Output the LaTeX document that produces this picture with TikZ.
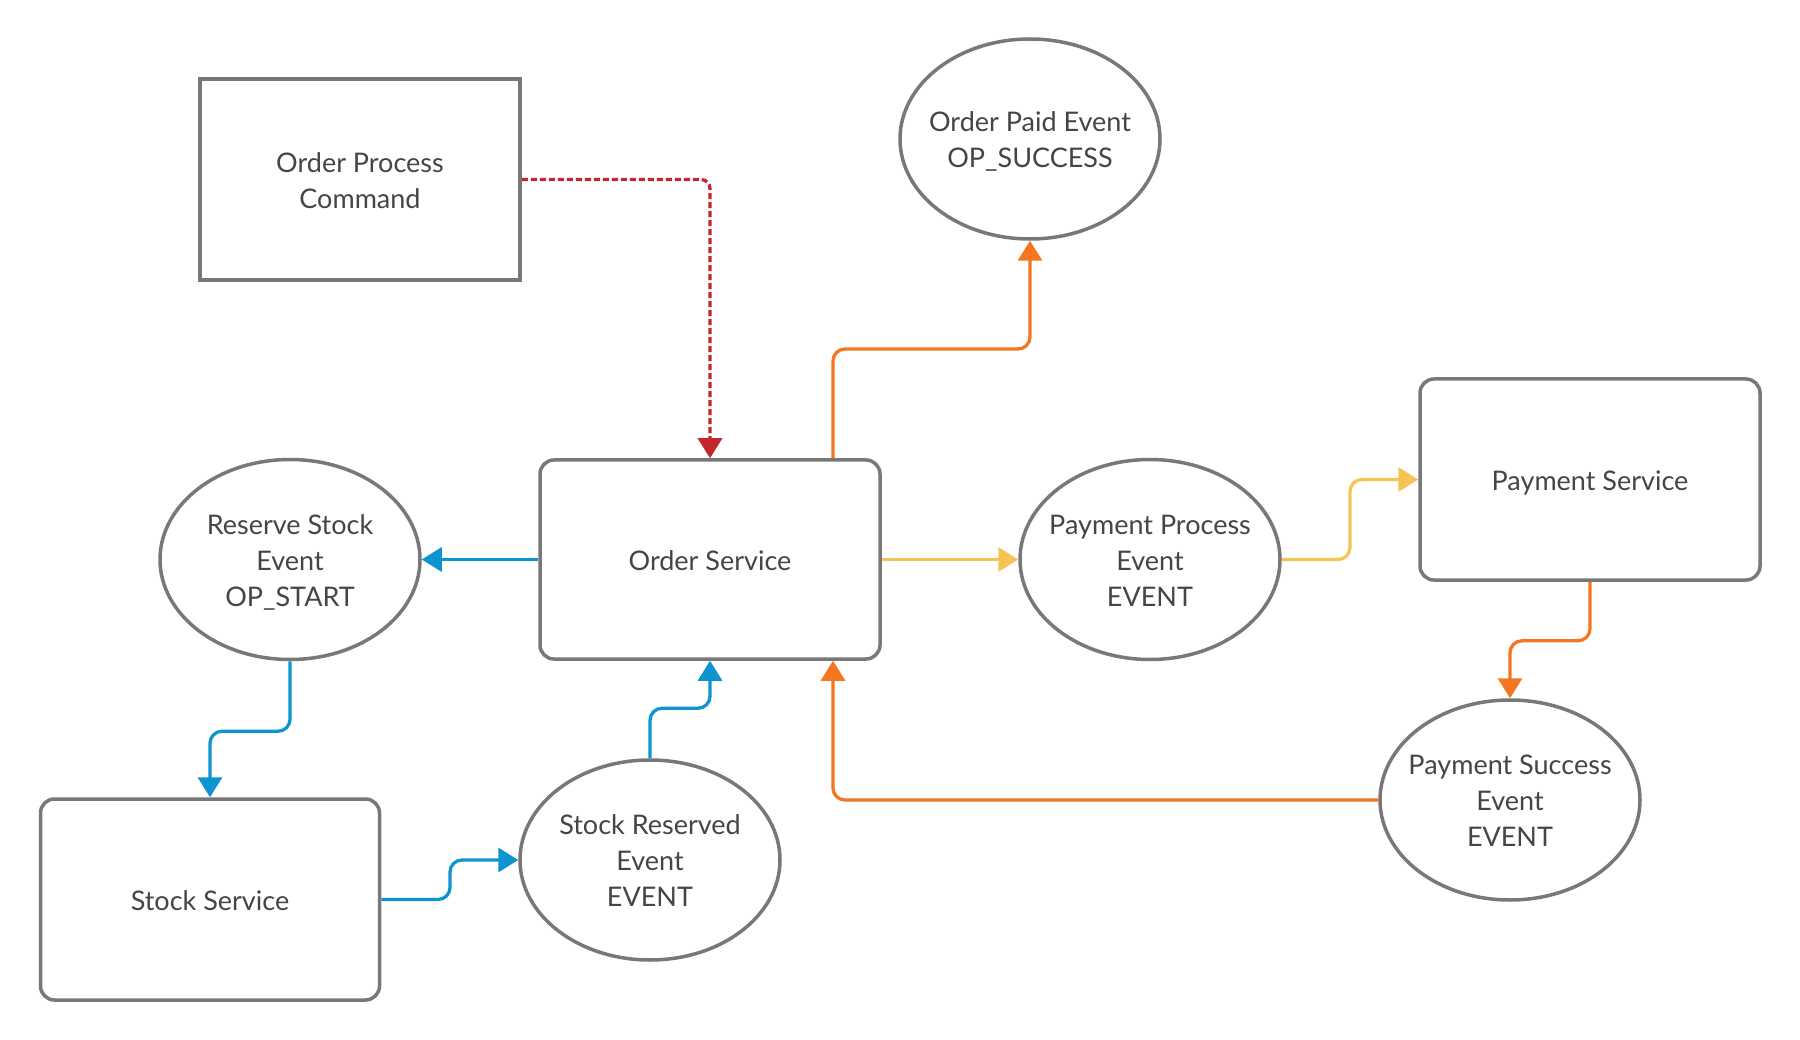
\documentclass[tikz,border=0pt]{standalone}
\usepackage{fontspec}
\setmainfont{Lato}
\usetikzlibrary{arrows.meta,shapes.geometric}
\definecolor{bord}{HTML}{787878}
\definecolor{txt}{HTML}{454545}
\definecolor{cblue}{HTML}{0E95D0}
\definecolor{corange}{HTML}{F47621}
\definecolor{cyellow}{HTML}{F5C356}
\definecolor{cred}{HTML}{C1272D}
\newcommand{\mytop}{\rule{0pt}{28.5pt}}
\newcommand{\mybot}{\rule[-7pt]{0pt}{0pt}}
\tikzset{
 base/.style={draw=bord, line width=3.5pt, fill=white, text=txt, font=\fontsize{27}{36}\selectfont, align=center, inner sep=0pt},
 sqbox/.style={base, rectangle},
 rbox/.style={base, rectangle, rounded corners=14pt},
 ell/.style={base, ellipse, inner xsep=-30pt, minimum width=260pt, minimum height=200pt},
 conn/.style={line width=3.3pt, rounded corners=12pt, -{Triangle[length=20pt,width=24pt]}},
}
\begin{document}
\begin{tikzpicture}[x=1pt,y=-1pt]
\useasboundingbox (0,0) rectangle (1800,1040);
\node[sqbox, minimum width=320pt, minimum height=201pt] (opc) at (360,179.5) {\mytop Order Process\\Command\mybot};
\node[ell] (ope) at (1030,139) {\mytop Order Paid Event\\OP\_SUCCESS\mybot};
\node[rbox, minimum width=340pt, minimum height=199pt] (os) at (710,559.5) {\mytop Order Service\mybot};
\node[ell] (rse) at (290,559.5) {\mytop Reserve Stock\\Event\\OP\_START\mybot};
\node[ell] (ppe) at (1150,559.5) {\mytop Payment Process\\Event\\EVENT\mybot};
\node[rbox, minimum width=340pt, minimum height=201pt] (ps) at (1590,479.5) {\mytop Payment Service\mybot};
\node[ell] (pse) at (1510,800) {\mytop Payment Success\\Event\\EVENT\mybot};
\node[rbox, minimum width=339pt, minimum height=201pt] (ss) at (210,899.5) {\mytop Stock Service\mybot};
\node[ell] (sre) at (650,860) {\mytop Stock Reserved\\Event\\EVENT\mybot};
\coordinate (o1) at (833,349);
\coordinate (b1) at (450,899.5);
\coordinate (y1) at (1350,559.5);
\draw[conn, cred, rounded corners=9pt, dash pattern=on 6pt off 3pt] (opc.east) -| (os.north);
\draw[conn, corange] (os.north -| o1) -- (o1) -| (ope.south);
\draw[conn, corange] (pse.west) -| (os.south -| o1);
\draw[conn, cblue] (os.west) -- (rse.east);
\draw[conn, cblue] (rse.south) -- ++(0,70) -| (ss.north);
\draw[conn, cblue] (ss.east) -- (b1) |- (sre.west);
\draw[conn, cblue] (sre.north) -- ++(0,-50) -| (os.south);
\draw[conn, cyellow] (os.east) -- (ppe.west);
\draw[conn, cyellow] (ppe.east) -- (y1) |- (ps.west);
\draw[conn, corange] (ps.south) -- ++(0,59) -| (pse.north);
\end{tikzpicture}
\end{document}
